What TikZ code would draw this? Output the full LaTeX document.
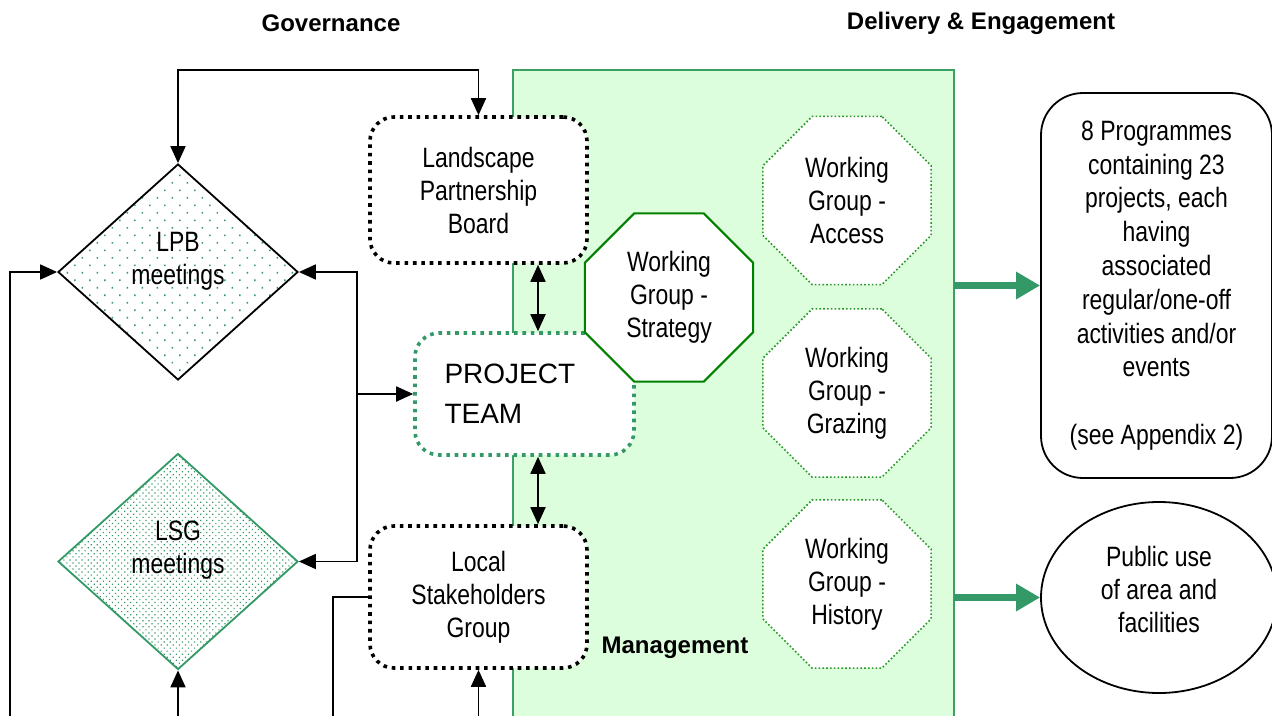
\documentclass[tikz,border=0pt]{standalone}
\usepackage{fontspec}
\setmainfont{Liberation Sans}
\newfontfamily\narrowsans[FakeStretch=0.82]{Liberation Sans}
\usetikzlibrary{shapes.geometric,arrows.meta,patterns.meta}

\definecolor{mgmtfill}{RGB}{221,254,221}
\definecolor{mgmtline}{RGB}{60,160,100}
\definecolor{teamgreen}{RGB}{51,153,102}
\definecolor{wgline}{RGB}{0,128,0}
\definecolor{wgdot}{RGB}{40,150,40}

\begin{document}
\begin{tikzpicture}[x=1pt,y=-1pt,
  body/.style={font=\narrowsans\fontsize{28}{33}\selectfont, align=center},
  heading/.style={font=\bfseries\fontsize{24}{28}\selectfont},
  conn/.style={line width=1.8pt, draw=black},
  tipend/.style={arrows={-Triangle[length=17pt,width=15pt]}},
  tipboth/.style={arrows={Triangle[length=17pt,width=15pt]-Triangle[length=17pt,width=15pt]}},
  garrow/.style={draw=teamgreen, line width=7pt, arrows={-Triangle[length=24pt,width=26pt]}},
  dotbox/.style={line width=3.6pt, dash pattern=on 3.6pt off 4.8pt,
    rounded corners=24pt, fill=white, inner sep=0},
  board/.style={dotbox, draw=black, body, minimum width=217pt},
  meeting/.style={diamond, minimum width=240pt, minimum height=216pt, inner sep=0,
    line width=1.8pt},
  wg/.style={regular polygon, regular polygon sides=8, minimum size=182pt,
    inner sep=0, fill=white, body},
  wgdotted/.style={wg, draw=wgdot, line width=1.6pt, dash pattern=on 1.6pt off 2.2pt},
  wgsolid/.style={wg, draw=wgline, line width=2pt},
]
\useasboundingbox (0,0) rectangle (1272,715);
\clip (0,0) rectangle (1272,715);
\fill[white] (0,0) rectangle (1272,715);

% headings
\node[heading] (gov) at (331,23) {Governance};
\node[heading] (del) at (981,23) {Delivery \& Engagement};

% management area
\node[draw=mgmtline, fill=mgmtfill, line width=1.8pt, minimum width=441pt,
  minimum height=680pt, inner sep=0, outer sep=0, anchor=north west] (mgmt) at (513,70) {};
\node[heading] (mgmtlabel) at (675,648) {Management};

% meetings
\node[meeting, draw=black, pattern={Dots[distance=10.6pt, angle=45, radius=1.1pt]},
  pattern color=teamgreen] (lpbd) at (178,272) {};
\node[body] (lpbdtext) at (178,261) {LPB\\meetings};
\node[meeting, draw=teamgreen, pattern={Dots[distance=4.3pt, angle=45, radius=0.85pt]},
  pattern color=teamgreen] (lsgd) at (178,561.5) {};
\node[body] (lsgdtext) at (178,550) {LSG\\meetings};

% governance boxes
\node[board, minimum height=146pt] (lpb) at (478.5,190) {Landscape\\Partnership\\Board};
\node[dotbox, draw=teamgreen, minimum width=219pt, minimum height=122pt,
  text width=160pt, align=left, font=\fontsize{28}{40}\selectfont] (pt) at (524.5,394)
  {PROJECT\\TEAM};
\node[board, minimum height=142pt] (lsg) at (478.5,597) {Local\\Stakeholders\\Group};

% working groups
\node[wgsolid] (wgs) at (669,297.5) {Working\\Group -\\Strategy};
\node[wgdotted] (wga) at (847,200.5) {Working\\Group -\\Access};
\node[wgdotted] (wgg) at (847,393) {Working\\Group -\\Grazing};
\node[wgdotted] (wgh) at (847,584) {Working\\Group -\\History};

% outcomes
\node[draw=black, line width=1.8pt, rounded corners=42pt, minimum width=231pt,
  minimum height=385pt, inner sep=0, body, font=\narrowsans\fontsize{28}{33.8}\selectfont]
  (prog) at (1156.5,285.5)
  {8 Programmes\\containing 23\\projects, each\\having\\associated\\regular/one-off\\activities and/or\\events\\[33.8pt](see Appendix 2)};
\node[ellipse, draw=black, line width=1.8pt, minimum width=236pt, minimum height=191pt,
  inner sep=0] (pub) at (1159,597.5) {};
\node[body] (pubtext) at (1159,589) {Public use\\of area and\\facilities};

% free ends of the connectors
\coordinate (topc) at (178,70);
\coordinate (leftend) at (10,730);
\coordinate (busT) at (357,272);
\coordinate (busB) at (357,561.5);
\coordinate (lsgleft) at (333,730);
\coordinate (lsgbottom) at (478.5,730);
\coordinate (lsgdbottom) at (178,730);

% governance connectors
\draw[conn, tipboth] (lpbd.north) -- (topc) -| (lpb.north);
\draw[conn, tipend] (leftend) |- (lpbd.west);
\draw[conn, tipboth] (lpbd.east) -- (busT) -- (busB) -- (lsgd.east);
\draw[conn, tipend] (busT |- pt.west) -- (pt.west);
\draw[conn, tipboth] ([xshift=59.5pt]lpb.south) -- ([xshift=13.5pt]pt.north);
\draw[conn, tipboth] ([xshift=13.5pt]pt.south) -- ([xshift=59.5pt]lsg.north);
\draw[conn] (lsg.west) -| (lsgleft);
\draw[conn, tipend] (lsgbottom) -- (lsg.south);
\draw[conn, tipend] (lsgdbottom) -- (lsgd.south);

% delivery arrows
\draw[garrow] (mgmt.east |- prog.west) -- (prog.west);
\draw[garrow] (mgmt.east |- pub.west) -- (pub.west);
\end{tikzpicture}
\end{document}
